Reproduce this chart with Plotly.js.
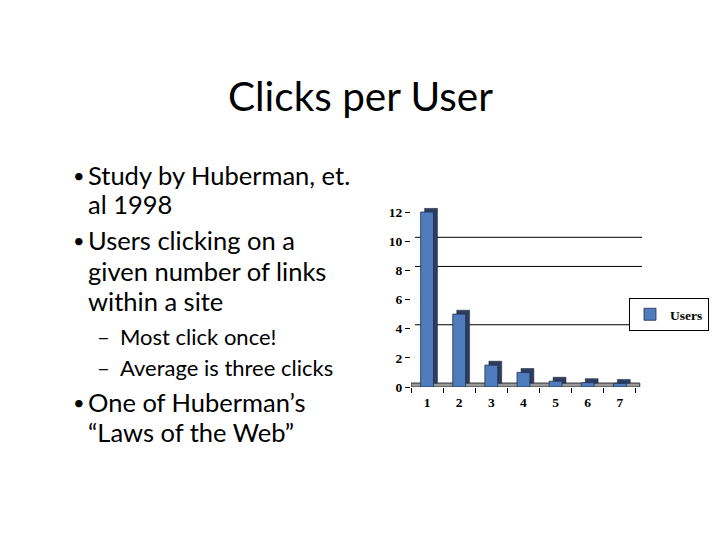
<!DOCTYPE html>
<html>
<head>
<meta charset="utf-8">
<script src="https://cdn.plot.ly/plotly-3.0.1.min.js"></script>
<style>html,body{margin:0;padding:0;background:#fff;}#chart{width:720px;height:540px;}</style>
</head>
<body>
<div id="chart"></div>
<script>
// ---- data ----
const categories = ["1", "2", "3", "4", "5", "6", "7"];
const users = [12, 5, 1.5, 1, 0.4, 0.3, 0.25];
const yTicks = [0, 2, 4, 6, 8, 10, 12];
const gridVals = [4, 8, 10];
const seriesName = "Users";
const slideTitle = "Clicks per User";
const bulletLines = [
  {lvl: 1, bullet: true,  text: "Study by Huberman, et."},
  {lvl: 1, bullet: false, text: "al 1998"},
  {lvl: 1, bullet: true,  text: "Users clicking on a"},
  {lvl: 1, bullet: false, text: "given number of links"},
  {lvl: 1, bullet: false, text: "within a site"},
  {lvl: 2, bullet: true,  text: "Most click once!"},
  {lvl: 2, bullet: true,  text: "Average is three clicks"},
  {lvl: 1, bullet: true,  text: "One of Huberman’s"},
  {lvl: 1, bullet: false, text: "“Laws of the Web”"}
];
const lineY = [175, 204, 240, 271, 301, 336, 367, 402, 432];

// ---- layout helpers ----
const W = 720, H = 540;
const px = x => x / W;
const py = y => 1 - y / H;
const depthX = 0.124;   // 3D depth offset (category units)
const depthY = 0.27;    // 3D depth offset (value units)
const bodyFont = {family: "Lato, 'Open Sans', sans-serif", size: 25.5, color: "#000"};
const tickFont = {family: "'Liberation Serif', 'DejaVu Serif', serif", size: 13.5, color: "#000", weight: "bold"};

const traces = [
  { // back/side face of the 3D bars
    type: "bar", x: categories, y: users, base: depthY,
    offset: -0.2 + depthX, width: 0.4,
    marker: {color: "#2c3d5e", line: {color: "#1a2540", width: 0.5}},
    showlegend: false, hoverinfo: "skip"
  },
  { // front face
    type: "bar", x: categories, y: users, name: seriesName,
    offset: -0.2, width: 0.4,
    marker: {color: "#4f7cbd", line: {color: "#1f2f4f", width: 0.8}}
  }
];

const annotations = [{
  text: slideTitle, xref: "paper", yref: "paper", x: px(360), y: py(95),
  xanchor: "center", yanchor: "middle", showarrow: false,
  font: {family: "Lato, 'Open Sans', sans-serif", size: 40.5, color: "#000"}
}];
bulletLines.forEach((ln, i) => {
  const textX = ln.lvl === 1 ? 86 : 118;
  const bulX = ln.lvl === 1 ? 71 : 95;
  const fs = ln.lvl === 1 ? 25.5 : 22;
  annotations.push({
    text: ln.text, xref: "paper", yref: "paper", x: px(textX), y: py(lineY[i]),
    xanchor: "left", yanchor: "middle", showarrow: false,
    font: Object.assign({}, bodyFont, {size: fs})
  });
  if (ln.bullet) {
    annotations.push({
      text: ln.lvl === 1 ? "•" : "–", xref: "paper", yref: "paper", x: px(bulX), y: py(lineY[i]),
      xanchor: "left", yanchor: "middle", showarrow: false,
      font: Object.assign({}, bodyFont, {size: ln.lvl === 1 ? 20 : 22})
    });
  }
});

const shapes = [{
  type: "rect", xref: "x", yref: "y", layer: "below",
  x0: -0.5, x1: 6.62, y0: 0, y1: depthY,
  fillcolor: "#9a9a9a", line: {color: "#333", width: 1}
}];
gridVals.forEach(v => shapes.push({
  type: "line", xref: "x", yref: "y", layer: "below",
  x0: -0.5 + depthX, x1: 6.69, y0: v + depthY, y1: v + depthY,
  line: {color: "#000", width: 1}
}));

const layout = {
  width: W, height: H,
  margin: {l: 0, r: 0, t: 0, b: 0},
  paper_bgcolor: "#fff", plot_bgcolor: "rgba(0,0,0,0)",
  barmode: "overlay",
  showlegend: true,
  xaxis: {
    type: "category", domain: [px(411), px(642)], range: [-0.5, 6.69],
    showgrid: false, zeroline: false, showline: false,
    ticks: "outside", tickson: "boundaries", ticklen: 5, tickcolor: "#000",
    ticklabelstandoff: 5,
    tickfont: tickFont, fixedrange: true
  },
  yaxis: {
    domain: [py(387), py(207.7)], range: [0, 12.3],
    tickvals: yTicks, ticktext: yTicks.map(String),
    showgrid: false, zeroline: false, showline: false,
    ticks: "outside", ticklen: 5, tickcolor: "#000",
    tickfont: tickFont, fixedrange: true
  },
  legend: {
    x: px(709), y: py(298), xanchor: "right", yanchor: "top",
    bordercolor: "#000", borderwidth: 1, bgcolor: "#fff",
    font: tickFont, itemwidth: 30
  },
  annotations: annotations,
  shapes: shapes
};

Plotly.newPlot("chart", traces, layout, {displayModeBar: false, staticPlot: true});
</script>
</body>
</html>
